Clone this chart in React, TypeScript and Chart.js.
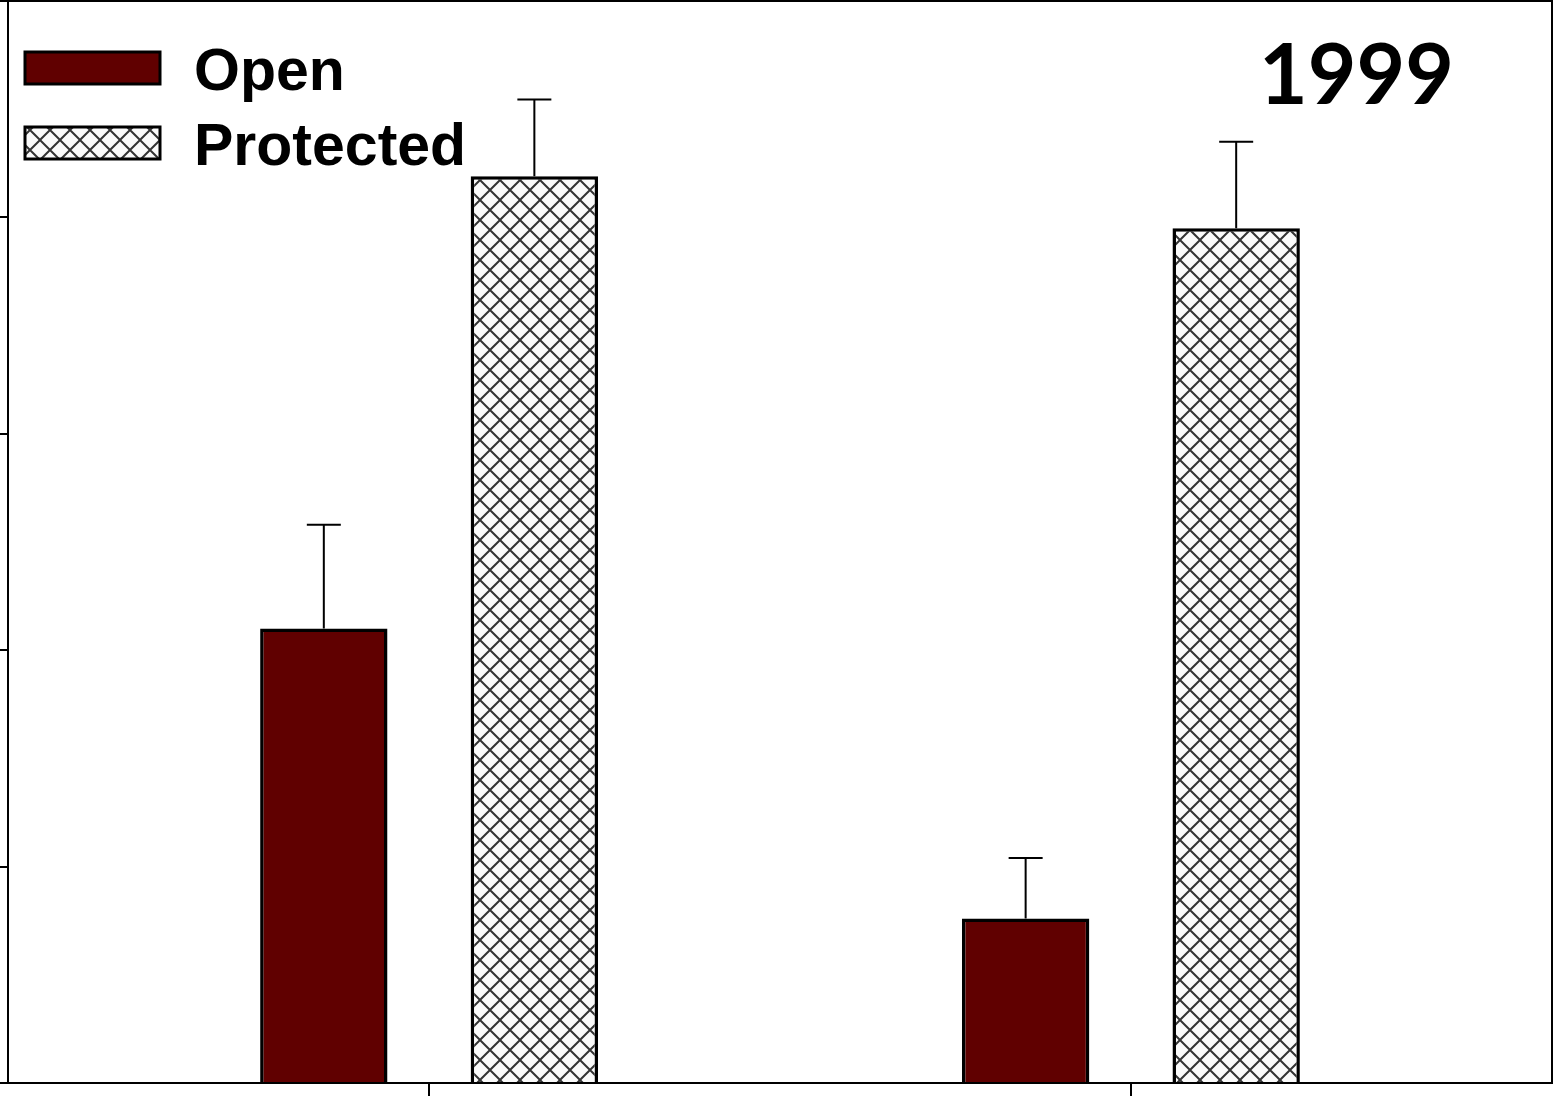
import React, { useEffect, useRef } from "react";
import { Chart, registerables } from "chart.js";

Chart.register(...registerables);

const groupPositions = [1, 2];
const seriesNames = ["Open", "Protected"];
const openValues = [2.1, 0.76];
const openErrors = [0.48, 0.28];
const protectedValues = [4.19, 3.95];
const protectedErrors = [0.355, 0.4];
const yTicks = [0, 1, 2, 3, 4, 5];
const yearLabel = "1999";

const OPEN_COLOR = "#600000";

function makeHatch(): CanvasPattern | string {
  const c = document.createElement("canvas");
  c.width = 20;
  c.height = 20;
  const g = c.getContext("2d");
  if (!g) return "#ddd";
  g.fillStyle = "#fafafa";
  g.fillRect(0, 0, 20, 20);
  g.strokeStyle = "#333";
  g.lineWidth = 2;
  g.beginPath();
  g.moveTo(-2, -2);
  g.lineTo(22, 22);
  g.moveTo(22, -2);
  g.lineTo(-2, 22);
  g.stroke();
  const p = g.createPattern(c, "repeat");
  return p || "#ddd";
}

export default function App() {
  const ref = useRef<HTMLCanvasElement | null>(null);

  useEffect(() => {
    if (!ref.current) return;
    const hatch = makeHatch();
    const errors = [openErrors, protectedErrors];

    const overlay = {
      id: "overlay",
      afterDatasetsDraw(chart: any) {
        const ctx = chart.ctx;
        const area = chart.chartArea;
        const yScale = chart.scales.y;
        ctx.save();
        ctx.strokeStyle = "#000";
        ctx.lineWidth = 2;
        chart.data.datasets.forEach((ds: any, di: number) => {
          const meta = chart.getDatasetMeta(di);
          meta.data.forEach((bar: any, i: number) => {
            const v = ds.data[i].y;
            const top = yScale.getPixelForValue(v + errors[di][i]);
            ctx.beginPath();
            ctx.moveTo(bar.x, bar.y);
            ctx.lineTo(bar.x, top);
            ctx.moveTo(bar.x - 17, top);
            ctx.lineTo(bar.x + 17, top);
            ctx.stroke();
          });
        });
        ctx.lineWidth = 2;
        ctx.strokeRect(area.left, area.top, area.right - area.left, area.bottom - area.top);
        const items = [
          { label: seriesNames[0], fill: OPEN_COLOR, y: 52 },
          { label: seriesNames[1], fill: hatch, y: 127 },
        ];
        items.forEach((it) => {
          ctx.fillStyle = it.fill as any;
          ctx.fillRect(25, it.y, 135, 32);
          ctx.lineWidth = 3;
          ctx.strokeStyle = "#000";
          ctx.strokeRect(25, it.y, 135, 32);
          ctx.fillStyle = "#000";
          ctx.font = "bold 59px 'Liberation Sans', Arial, sans-serif";
          ctx.textBaseline = "alphabetic";
          ctx.textAlign = "left";
          ctx.fillText(it.label, 194, it.y + 38);
        });
        ctx.font = "bold 84px Lato, 'Open Sans', sans-serif";
        ctx.textAlign = "left";
        ctx.fillText(yearLabel, 1259, 104);
        ctx.restore();
      },
    };

    const chart = new Chart(ref.current, {
      type: "bar",
      data: {
        datasets: [
          {
            label: seriesNames[0],
            data: groupPositions.map((x, i) => ({ x, y: openValues[i] })),
            backgroundColor: OPEN_COLOR,
            borderColor: "#000",
            borderWidth: 3.5,
          },
          {
            label: seriesNames[1],
            data: groupPositions.map((x, i) => ({ x, y: protectedValues[i] })),
            backgroundColor: hatch as any,
            borderColor: "#000",
            borderWidth: 3.5,
          },
        ],
      },
      options: {
        animation: false,
        responsive: false,
        devicePixelRatio: 1,
        categoryPercentage: 0.6,
        barPercentage: 0.605,
        layout: { padding: { top: 1, right: 4, left: 0, bottom: 0 } },
        plugins: { legend: { display: false }, tooltip: { enabled: false } },
        scales: {
          x: {
            type: "linear",
            min: 0.4,
            max: 2.6,
            offset: false,
            afterBuildTicks: (s: any) => {
              s.ticks = groupPositions.map((v) => ({ value: v }));
            },
            ticks: { display: false },
            grid: { offset: false, drawOnChartArea: false, tickLength: 13, color: "#000", lineWidth: 2 },
            border: { color: "#000", width: 2 },
          },
          y: {
            min: 0,
            max: 5,
            afterBuildTicks: (s: any) => {
              s.ticks = yTicks.map((v) => ({ value: v }));
            },
            ticks: { display: false },
            grid: { drawOnChartArea: false, tickLength: 8, color: "#000", lineWidth: 2 },
            border: { color: "#000", width: 2 },
          },
        },
      } as any,
      plugins: [overlay],
    });
    return () => chart.destroy();
  }, []);

  return (
    <div style={{ position: "fixed", left: 0, top: 0, width: 1556, height: 1096, background: "#fff" }}>
      <canvas ref={ref} width={1556} height={1096} style={{ width: 1556, height: 1096 }} />
    </div>
  );
}
